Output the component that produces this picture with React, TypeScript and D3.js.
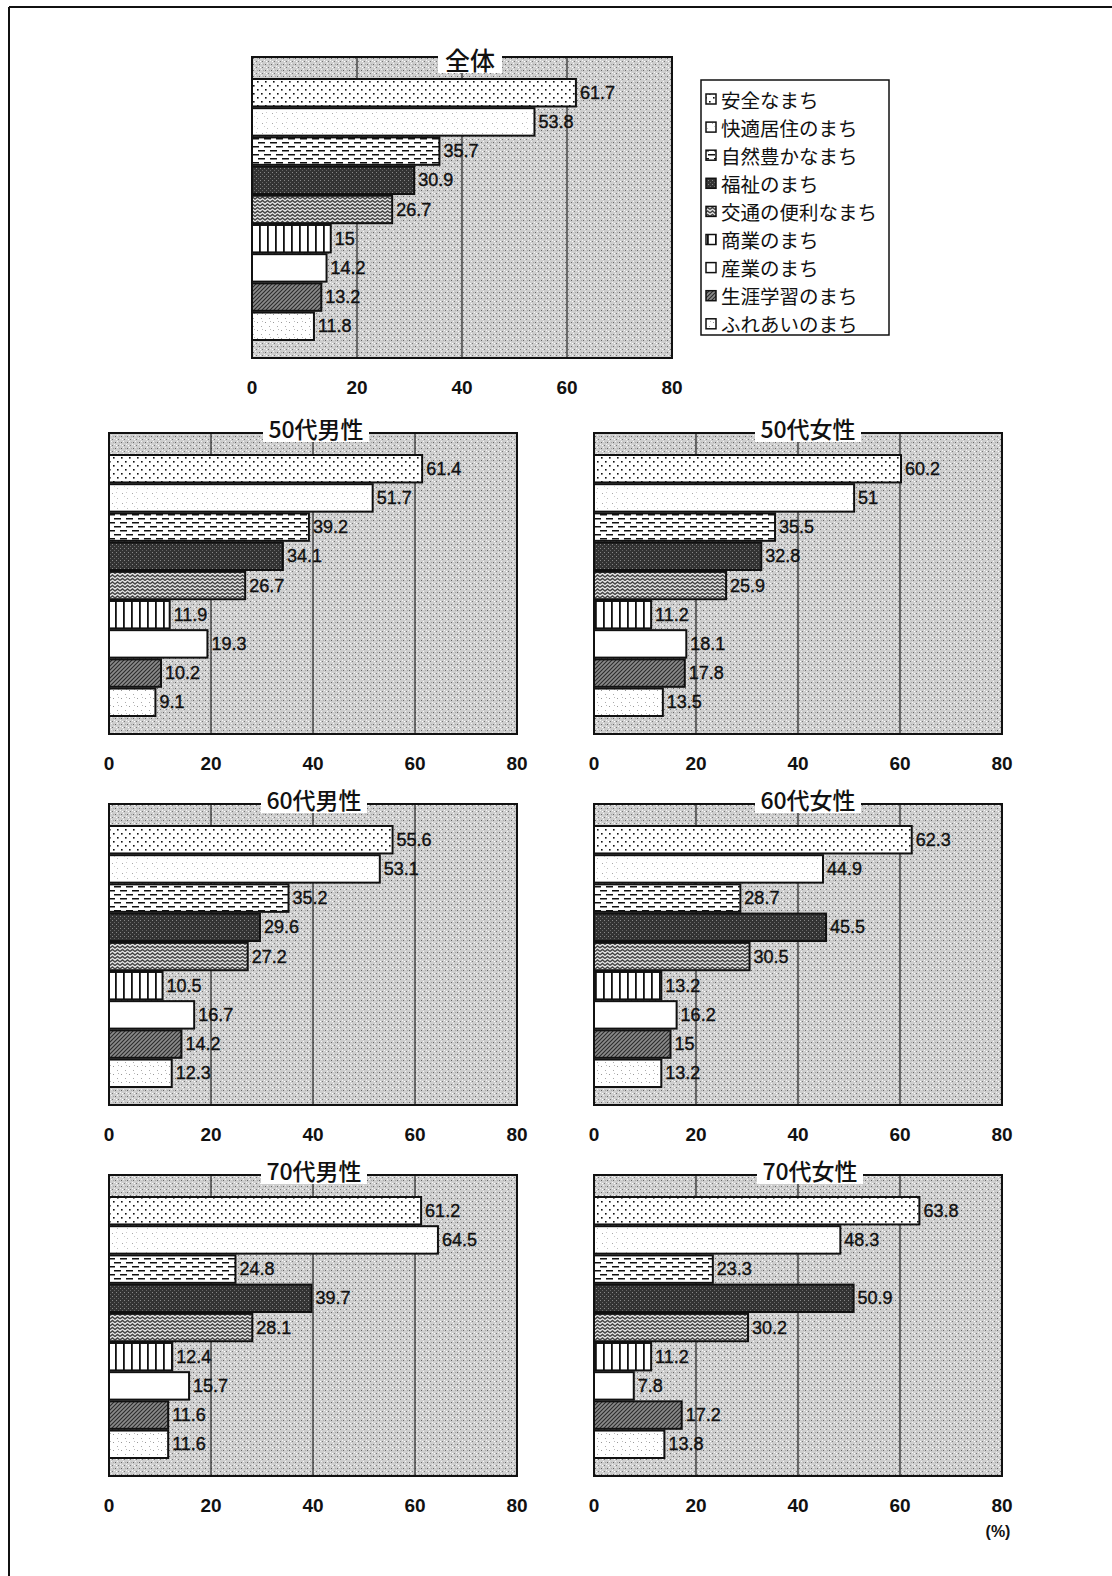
import React from 'react';
import * as d3 from 'd3';

const categories = ['安全なまち', '快適居住のまち', '自然豊かなまち', '福祉のまち', '交通の便利なまち', '商業のまち', '産業のまち', '生涯学習のまち', 'ふれあいのまち'];
const groupNames = ['全体', '50代男性', '50代女性', '60代男性', '60代女性', '70代男性', '70代女性'];
const valuesAll = [61.7, 53.8, 35.7, 30.9, 26.7, 15, 14.2, 13.2, 11.8];
const values50M = [61.4, 51.7, 39.2, 34.1, 26.7, 11.9, 19.3, 10.2, 9.1];
const values50F = [60.2, 51, 35.5, 32.8, 25.9, 11.2, 18.1, 17.8, 13.5];
const values60M = [55.6, 53.1, 35.2, 29.6, 27.2, 10.5, 16.7, 14.2, 12.3];
const values60F = [62.3, 44.9, 28.7, 45.5, 30.5, 13.2, 16.2, 15, 13.2];
const values70M = [61.2, 64.5, 24.8, 39.7, 28.1, 12.4, 15.7, 11.6, 11.6];
const values70F = [63.8, 48.3, 23.3, 50.9, 30.2, 11.2, 7.8, 17.2, 13.8];
const groupValues = [valuesAll, values50M, values50F, values60M, values60F, values70M, values70F];
const xTicks = [0, 20, 40, 60, 80];
const unitLabel = '(%)';

const layout = [
  { x: 252, y: 57, w: 420, h: 301, ts: 25, tdx: 8 },
  { x: 109, y: 433, w: 408, h: 301, ts: 23, tdx: 3 },
  { x: 594, y: 433, w: 408, h: 301, ts: 23, tdx: 10 },
  { x: 109, y: 804, w: 408, h: 301, ts: 23, tdx: 1 },
  { x: 594, y: 804, w: 408, h: 301, ts: 23, tdx: 10 },
  { x: 109, y: 1175, w: 408, h: 301, ts: 23, tdx: 1 },
  { x: 594, y: 1175, w: 408, h: 301, ts: 23, tdx: 12 },
];

const patIds = ['p1', 'p2', 'p3', 'p4', 'p5', 'p6', 'p7', 'p8', 'p9'];
const numFont = '"Liberation Sans", Arial, sans-serif';
const cjkFont = '"Noto Sans CJK JP", "Noto Sans", sans-serif';

function Patterns() {
  return (
    <defs>
      <pattern id="bg" width="6" height="6" patternUnits="userSpaceOnUse">
        <rect width="6" height="6" fill="#cecece" />
        <rect x="0" y="0" width="1" height="1" fill="#f4f4f4" />
        <rect x="3" y="3" width="1" height="1" fill="#f4f4f4" />
        <rect x="1" y="4" width="1" height="1" fill="#666" />
        <rect x="4" y="1" width="1" height="1" fill="#777" />
        <rect x="2" y="1" width="1" height="1" fill="#fff" />
        <rect x="5" y="4" width="1" height="1" fill="#aaa" />
      </pattern>
      <pattern id="p1" width="8" height="8" patternUnits="userSpaceOnUse">
        <rect width="8" height="8" fill="#fff" />
        <rect x="1" y="1" width="1.6" height="1.6" fill="#111" />
        <rect x="5" y="5" width="1.6" height="1.6" fill="#111" />
      </pattern>
      <pattern id="p2" width="10" height="10" patternUnits="userSpaceOnUse">
        <rect width="10" height="10" fill="#fff" />
        <rect x="2" y="3" width="1" height="1" fill="#aaa" />
        <rect x="7" y="8" width="1" height="1" fill="#bbb" />
        <rect x="6" y="2" width="1" height="1" fill="#ccc" />
        <rect x="4" y="6" width="1" height="1" fill="#ccc" />
      </pattern>
      <pattern id="p3" width="12" height="8" patternUnits="userSpaceOnUse">
        <rect width="12" height="8" fill="#fff" />
        <rect x="0" y="2" width="7" height="1.5" fill="#111" />
        <rect x="6" y="6" width="6" height="1.5" fill="#111" />
        <rect x="0" y="6" width="1" height="1.5" fill="#111" />
      </pattern>
      <pattern id="p4" width="4" height="4" patternUnits="userSpaceOnUse">
        <rect width="4" height="4" fill="#333" />
        <rect x="0" y="0" width="1" height="1" fill="#888" />
        <rect x="2" y="2" width="1" height="1" fill="#666" />
      </pattern>
      <pattern id="p5" width="10" height="7" patternUnits="userSpaceOnUse">
        <rect width="10" height="7" fill="#e6e6e6" />
        <path d="M0,3 L2.5,1 L5,3 L7.5,1 L10,3" stroke="#444" strokeWidth="1.4" fill="none" />
        <path d="M0,6.5 L2.5,4.5 L5,6.5 L7.5,4.5 L10,6.5" stroke="#444" strokeWidth="1.4" fill="none" />
      </pattern>
      <pattern id="p6" width="8" height="8" patternUnits="userSpaceOnUse">
        <rect width="8" height="8" fill="#fff" />
        <rect x="3" y="0" width="1.8" height="8" fill="#111" />
      </pattern>
      <pattern id="p7" width="8" height="8" patternUnits="userSpaceOnUse">
        <rect width="8" height="8" fill="#fff" />
      </pattern>
      <pattern id="p8" width="4" height="4" patternUnits="userSpaceOnUse">
        <rect width="4" height="4" fill="#8a8a8a" />
        <path d="M-1,1 L1,-1 M0,4 L4,0 M3,5 L5,3" stroke="#2a2a2a" strokeWidth="1.1" />
      </pattern>
      <pattern id="p9" width="8" height="8" patternUnits="userSpaceOnUse">
        <rect width="8" height="8" fill="#fff" />
        <rect x="1" y="2" width="1" height="1" fill="#999" />
        <rect x="5" y="6" width="1" height="1" fill="#aaa" />
        <rect x="6" y="1" width="1" height="1" fill="#bbb" />
      </pattern>
    </defs>
  );
}

function Panel({ idx }: { idx: number }) {
  const L = layout[idx];
  const vals = groupValues[idx];
  const x = d3.scaleLinear().domain([0, 80]).range([L.x, L.x + L.w]);
  const y = d3
    .scaleBand<string>()
    .domain(categories)
    .range([L.y + 22, L.y + L.h - 18])
    .paddingInner(0.06)
    .paddingOuter(0);
  const title = groupNames[idx];
  const tw = title.length * L.ts * (idx === 0 ? 1 : 0.8) + 14;
  const tcx = L.x + L.w / 2 + L.tdx;
  const tcy = idx === 0 ? L.y + 2 : L.y - 5;
  return (
    <g>
      <rect x={L.x} y={L.y} width={L.w} height={L.h} fill="url(#bg)" />
      {xTicks.slice(1, -1).map((t) => (
        <line key={t} x1={x(t)} x2={x(t)} y1={L.y} y2={L.y + L.h} stroke="#222" strokeWidth={1.2} />
      ))}
      <rect x={L.x} y={L.y} width={L.w} height={L.h} fill="none" stroke="#111" strokeWidth={2} />
      <rect x={tcx - tw / 2} y={tcy - 14} width={tw} height={28} fill="#fff" />
      <text x={tcx} y={tcy} textAnchor="middle" dominantBaseline="central" fontFamily={cjkFont} fontSize={L.ts} fontWeight={500} fill="#111">
        {title}
      </text>
      {categories.map((c, i) => (
        <g key={c}>
          <rect x={x(0)} y={y(c)} width={x(vals[i]) - x(0)} height={y.bandwidth()} fill={`url(#${patIds[i]})`} stroke="#111" strokeWidth={2} />
          <text x={x(vals[i]) + 4} y={(y(c) as number) + y.bandwidth() / 2} dominantBaseline="central" fontFamily={numFont} fontSize={18} fill="#111" stroke="#111" strokeWidth={0.4}>
            {String(vals[i])}
          </text>
        </g>
      ))}
      {xTicks.map((t) => (
        <text key={t} x={x(t)} y={L.y + L.h + 36} textAnchor="middle" fontFamily={numFont} fontSize={19} fontWeight="bold" fill="#111">
          {t}
        </text>
      ))}
    </g>
  );
}

function Legend() {
  const lx = 701;
  const ly = 80;
  const step = 28.1;
  return (
    <g>
      <rect x={lx} y={ly} width={188} height={255} fill="#fff" stroke="#111" strokeWidth={1.5} />
      {categories.map((c, i) => {
        const cy = 99 + i * step;
        return (
          <g key={c}>
            <rect x={706} y={cy - 5} width={10} height={10} fill={`url(#${patIds[i]})`} stroke="#111" strokeWidth={1.5} />
            <text x={721} y={cy} dominantBaseline="central" fontFamily={cjkFont} fontSize={19.5} fill="#111">
              {c}
            </text>
          </g>
        );
      })}
    </g>
  );
}

export default function App() {
  return (
    <svg width={1112} height={1576} style={{ position: 'absolute', left: 0, top: 0, background: '#fff' }}>
      <Patterns />
      <rect x={0} y={0} width={1112} height={1576} fill="#fff" />
      <line x1={9} y1={7} x2={1112} y2={7} stroke="#111" strokeWidth={2} />
      <line x1={9} y1={7} x2={9} y2={1576} stroke="#111" strokeWidth={2} />
      {groupNames.map((g, i) => (
        <Panel key={g} idx={i} />
      ))}
      <Legend />
      <text x={998} y={1537} textAnchor="middle" fontFamily={numFont} fontSize={16} fontWeight="bold" fill="#111">
        {unitLabel}
      </text>
    </svg>
  );
}
